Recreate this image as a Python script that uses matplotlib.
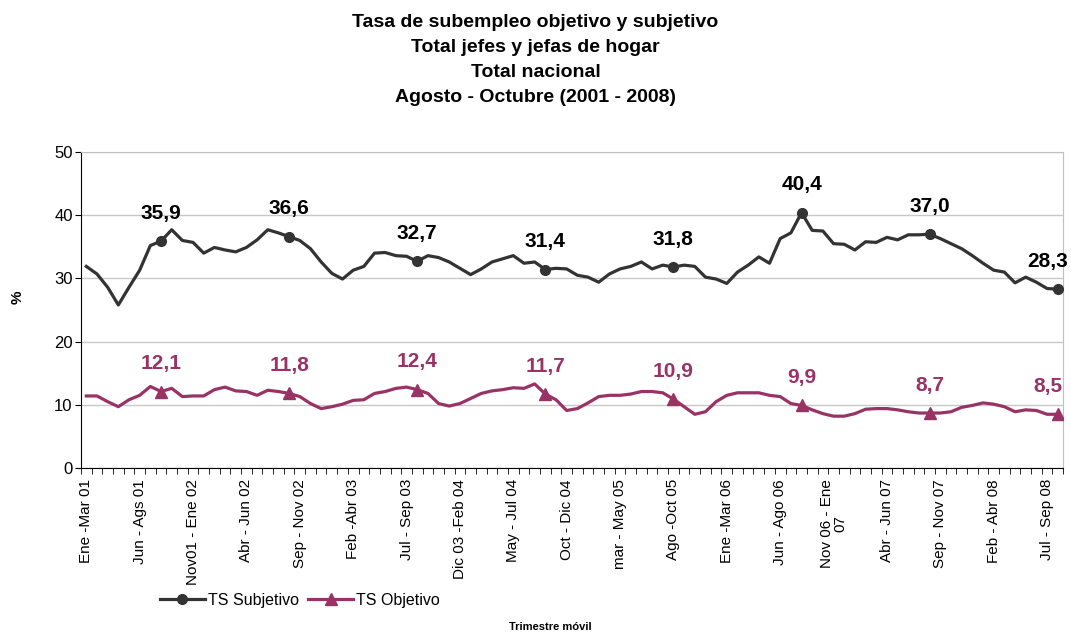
import numpy as np
import matplotlib
matplotlib.use('Agg')
import matplotlib.pyplot as plt

plt.rcParams['font.family'] = ['Liberation Sans', 'DejaVu Sans']

tick_labels = ['Ene -Mar 01', 'Jun - Ags 01', 'Nov01 - Ene 02', 'Abr - Jun 02',
               'Sep - Nov 02', 'Feb -Abr 03', 'Jul - Sep 03', 'Dic 03 -Feb 04',
               'May - Jul 04', 'Oct - Dic 04', 'mar - May 05', 'Ago -Oct 05',
               'Ene -Mar 06', 'Jun - Ago 06', 'Nov 06 - Ene\n07', 'Abr - Jun 07',
               'Sep - Nov 07', 'Feb - Abr 08', 'Jul - Sep 08']

subjetivo = [31.9, 30.7, 28.6, 25.8, 28.6, 31.3, 35.2, 35.9, 37.7, 36.0,
             35.7, 34.0, 34.9, 34.5, 34.2, 34.9, 36.1, 37.7, 37.2, 36.6,
             36.0, 34.7, 32.6, 30.8, 29.9, 31.3, 31.9, 34.0, 34.1, 33.6,
             33.5, 32.7, 33.6, 33.3, 32.6, 31.6, 30.6, 31.5, 32.6, 33.1,
             33.6, 32.4, 32.6, 31.4, 31.6, 31.5, 30.5, 30.2, 29.4, 30.7,
             31.5, 31.9, 32.6, 31.5, 32.1, 31.8, 32.1, 31.9, 30.2, 29.9,
             29.2, 31.0, 32.1, 33.4, 32.4, 36.3, 37.2, 40.4, 37.6, 37.5,
             35.5, 35.4, 34.5, 35.8, 35.7, 36.5, 36.1, 36.9, 36.9, 37.0,
             36.3, 35.5, 34.7, 33.6, 32.4, 31.3, 31.0, 29.3, 30.2, 29.4,
             28.4, 28.3]

objetivo = [11.4, 11.4, 10.5, 9.7, 10.8, 11.5, 12.9, 12.1, 12.6, 11.3,
            11.4, 11.4, 12.4, 12.8, 12.2, 12.1, 11.5, 12.3, 12.1, 11.8,
            11.3, 10.2, 9.4, 9.7, 10.1, 10.7, 10.8, 11.8, 12.1, 12.6,
            12.8, 12.4, 11.8, 10.2, 9.8, 10.2, 11.0, 11.8, 12.2, 12.4,
            12.7, 12.6, 13.3, 11.7, 10.8, 9.1, 9.4, 10.3, 11.3, 11.5,
            11.5, 11.7, 12.1, 12.1, 11.9, 10.9, 9.7, 8.5, 8.9, 10.5,
            11.5, 11.9, 11.9, 11.9, 11.5, 11.3, 10.2, 9.9, 9.2, 8.6,
            8.2, 8.2, 8.6, 9.3, 9.4, 9.4, 9.2, 8.9, 8.7, 8.7,
            8.7, 8.9, 9.6, 9.9, 10.3, 10.1, 9.7, 8.9, 9.2, 9.1,
            8.5, 8.5]

x = np.arange(len(subjetivo))
marked = list(range(7, len(subjetivo), 12))

c_sub = '#333333'
c_obj = '#993366'

fig = plt.figure(figsize=(10.71, 6.35), dpi=100)
ax = fig.add_axes([0.0756, 0.263, 0.917, 0.4976])

ax.plot(x, subjetivo, color=c_sub, lw=2.3, marker='o', markersize=7,
        markevery=marked, label='TS Subjetivo', zorder=3)
ax.plot(x, objetivo, color=c_obj, lw=2.3, marker='^', markersize=8,
        markevery=marked, label='TS Objetivo', zorder=3)

# etiquetas de datos, la ultima un poco a la izquierda para que no se corte
for i in marked:
    dx = -7 if i == marked[-1] else 0
    ax.annotate(f'{subjetivo[i]:.1f}'.replace('.', ','), (x[i], subjetivo[i]),
                xytext=(dx, 20), textcoords='offset points', ha='center', va='center',
                fontsize=15, fontweight='bold', color='black')
    ax.annotate(f'{objetivo[i]:.1f}'.replace('.', ','), (x[i], objetivo[i]),
                xytext=(dx, 20), textcoords='offset points', ha='center', va='center',
                fontsize=15, fontweight='bold', color=c_obj)

ax.set_xlim(-0.5, len(subjetivo) - 0.5)
ax.set_ylim(0, 50)
ax.set_yticks([0, 10, 20, 30, 40, 50])
ax.yaxis.grid(True, color='#c8c8c8', lw=1)
ax.set_axisbelow(True)

ax.set_xticks(np.arange(0, len(subjetivo), 5))
ax.set_xticklabels(tick_labels, rotation=90, fontsize=11, linespacing=0.9)
ax.set_xticks(np.arange(-0.5, len(subjetivo), 1), minor=True)
ax.tick_params(axis='x', which='major', length=0, pad=8)
ax.tick_params(axis='x', which='minor', length=4, direction='out', color='black')
ax.tick_params(axis='y', labelsize=12, length=4, pad=2)

for s in ['top', 'right']:
    ax.spines[s].set_color('#c0c0c0')
for s in ['left', 'bottom']:
    ax.spines[s].set_color('black')

ax.set_ylabel('%', fontsize=11, fontweight='bold')
ax.yaxis.set_label_coords(-0.057, 0.54)

titles = ['Tasa de subempleo objetivo y subjetivo', 'Total jefes y jefas de hogar',
          'Total nacional', 'Agosto - Octubre (2001 - 2008)']
for k, t in enumerate(titles):
    fig.text(0.5, 0.965 - k * 0.0393, t, ha='center', va='center',
             fontsize=14, fontweight='bold')

fig.text(0.514, 0.004, 'Trimestre móvil', ha='center', va='bottom',
         fontsize=8, fontweight='bold')

fig.legend(loc='center', bbox_to_anchor=(0.28, 0.055), ncol=2, frameon=False,
           fontsize=11.5, handlelength=2.8, handletextpad=0.2, columnspacing=0.6)

fig.savefig('out.png', dpi=100)
